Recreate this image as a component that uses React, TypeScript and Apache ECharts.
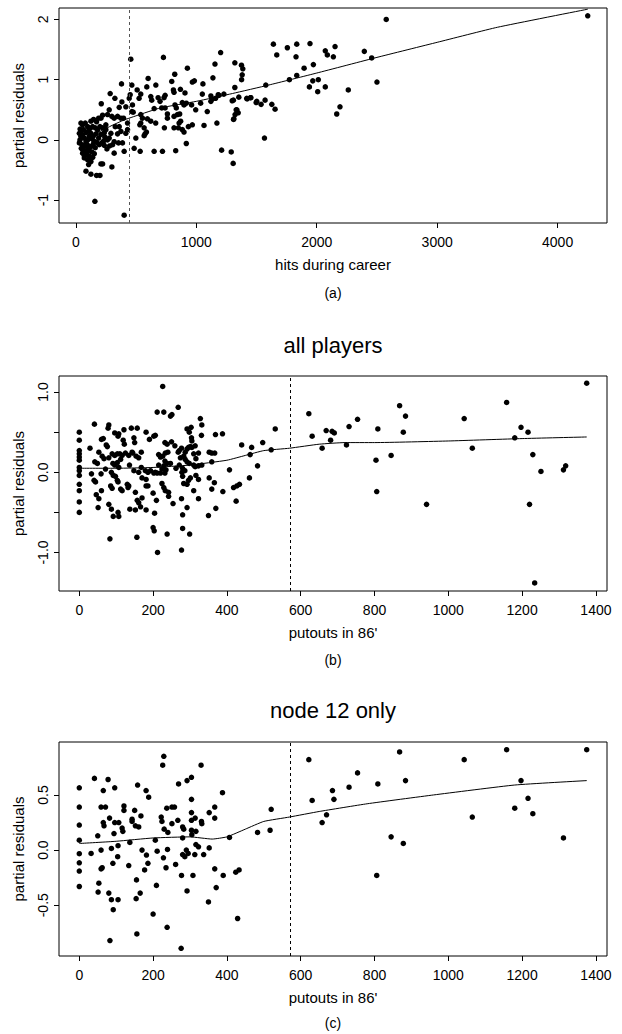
import React, { useEffect, useRef } from "react";
import * as echarts from "echarts";

// ---------- Data ----------
const hitsCareerPoints: [number, number][] = [
  [1202,1.45],[727,1.37],[456,1.34],[1155,1.26],[1320,1.28],[1375,1.24],[1386,1.18],[926,1.19],[821,1.09],[1138,1.03],[1381,1.08],[1376,1.00],[600,1.02],[984,0.98],[967,0.96],[796,0.97],[379,0.93],[664,0.91],[465,0.91],[589,0.88],[509,0.83],[1055,0.93],[1320,0.87],[285,0.77],[324,0.69],[451,0.75],[443,0.69],[539,0.76],[525,0.69],[622,0.72],[630,0.66],[683,0.70],[699,0.64],[741,0.74],[732,0.70],[810,0.83],[815,0.79],[868,0.84],[906,0.78],[1050,0.76],[1121,0.73],[1133,0.68],[1182,0.75],[1229,0.76],[1353,0.71],[1422,0.68],[1450,0.70],[1497,0.62],[1298,0.65],[211,0.60],[382,0.63],[470,0.58],[465,0.47],[476,0.46],[415,0.55],[360,0.54],[277,0.50],[299,0.39],[263,0.42],[222,0.41],[208,0.36],[318,0.36],[346,0.39],[374,0.36],[396,0.36],[429,0.28],[539,0.42],[553,0.36],[594,0.35],[622,0.31],[650,0.52],[663,0.28],[713,0.53],[741,0.53],[760,0.43],[760,0.36],[823,0.58],[834,0.53],[815,0.39],[843,0.42],[862,0.43],[884,0.62],[898,0.58],[917,0.61],[961,0.58],[995,0.50],[1036,0.61],[1091,0.47],[1121,0.64],[1160,0.69],[1188,0.74],[1331,0.50],[1348,0.45],[1312,0.35],[1064,0.24],[1171,0.28],[967,0.25],[934,0.22],[857,0.28],[870,0.31],[815,0.20],[851,0.20],[884,0.17],[898,0.13],[735,0.20],[567,0.20],[575,0.10],[586,0.13],[567,0.07],[531,0.25],[539,0.28],[498,0.03],[429,0.17],[415,0.11],[360,0.22],[374,0.14],[346,0.10],[327,0.22],[291,0.11],[277,0.03],[318,-0.03],[354,-0.05],[387,-0.05],[305,-0.08],[318,-0.22],[401,-0.19],[484,-0.14],[534,-0.19],[650,-0.19],[719,-0.19],[829,-0.18],[917,-0.06],[1210,-0.17],[1290,-0.20],[1306,-0.39],[299,-0.45],[208,-0.40],[222,-0.40],[106,-0.41],[84,-0.52],[125,-0.57],[172,-0.59],[200,-0.59],[158,-1.02],[401,-1.25],
  [42,0.28],[56,0.25],[78,0.28],[98,0.22],[125,0.31],[147,0.34],[172,0.30],[189,0.36],[139,0.22],[161,0.20],[180,0.17],[200,0.22],[222,0.20],[249,0.25],[249,0.17],[29,0.11],[42,0.06],[34,0.00],[29,-0.05],[56,0.08],[70,0.03],[84,-0.03],[98,0.00],[111,0.06],[125,0.11],[144,0.06],[167,0.10],[189,0.03],[208,0.09],[51,-0.08],[62,-0.12],[78,-0.09],[98,-0.13],[111,-0.18],[125,-0.11],[144,-0.07],[161,-0.13],[194,-0.08],[216,-0.05],[236,-0.09],[56,-0.22],[70,-0.26],[89,-0.24],[111,-0.27],[133,-0.20],[153,-0.23],[98,-0.33],[125,-0.36],[70,-0.30],[240,0.05],[262,0.00],[236,0.12],[280,-0.10],[258,-0.15],[230,-0.02],
  [35,0.18],[48,0.15],[63,0.17],[85,0.12],[105,0.15],[118,0.19],[132,0.02],[150,-0.02],[175,-0.04],[60,-0.17],[82,-0.19],[95,-0.08],[120,-0.31],[140,-0.29],[45,-0.14],
  [1640,1.59],[1668,1.41],[1756,1.53],[1834,1.59],[1944,1.60],[1828,1.38],[1895,1.19],[1972,1.25],[1834,1.07],[1773,1.00],[1967,0.98],[2013,1.00],[1939,0.88],[2008,0.80],[1577,0.91],[1419,0.69],[1453,0.70],[1502,0.64],[1538,0.59],[1571,0.66],[1627,0.59],[1654,0.51],[1566,0.03],[1322,0.42],[1337,0.50],[1308,0.66],[1309,0.34],[2071,1.48],[2088,1.41],[2152,1.55],[2138,1.38],[2071,0.88],[2193,0.55],[2166,0.43],[2262,0.83],[2395,1.47],[2456,1.36],[2500,0.96],[2577,2.00],[4250,2.06]
];
const hitsCareerLoess: [number, number][] = [
  [20,-0.03],[100,0.04],[200,0.14],[300,0.24],[400,0.33],[500,0.40],[700,0.53],[1000,0.64],[1300,0.77],[1600,0.91],[2000,1.11],[2500,1.37],[3000,1.62],[3500,1.87],[4250,2.17]
];
const putoutsAllPoints: [number, number][] = [
  [0,0.50],[0,0.40],[0,0.27],[0,0.23],[0,0.19],[0,0.15],[0,0.06],[0,0.02],[0,-0.04],[0,-0.15],[0,-0.23],[0,-0.37],[0,-0.50],
  [226,1.07],[211,0.75],[229,0.75],[247,0.70],[251,0.72],[268,0.81],[41,0.60],[80,0.59],[78,0.55],[60,0.41],[65,0.42],[96,0.49],[107,0.48],[105,0.45],[121,0.53],[141,0.55],[157,0.55],[119,0.40],[122,0.35],[148,0.43],[150,0.37],[143,0.25],[154,0.20],[181,0.50],[190,0.41],[202,0.45],[206,0.46],[29,0.30],[42,0.13],[49,0.11],[73,0.34],[76,0.32],[53,0.25],[62,0.20],[67,0.17],[80,0.18],[89,0.23],[96,0.21],[103,0.23],[110,0.23],[116,0.21],[91,0.11],[96,0.09],[103,0.12],[107,0.06],[112,0.16],[125,0.24],[134,0.21],[145,0.24],[161,0.18],[168,0.25],[33,-0.02],[40,-0.10],[44,-0.12],[59,-0.02],[71,0.04],[87,0.00],[92,-0.04],[98,-0.05],[103,-0.10],[105,-0.12],[85,-0.17],[89,-0.20],[112,-0.21],[116,-0.23],[130,-0.15],[134,-0.17],[132,-0.19],[46,-0.28],[53,-0.33],[51,-0.44],[60,-0.23],[80,-0.40],[87,-0.46],[92,-0.55],[105,-0.50],[107,-0.55],[83,-0.83],[137,-0.46],[152,-0.47],[166,-0.43],[152,-0.25],[157,-0.35],[161,-0.38],[170,-0.32],[181,-0.47],[156,-0.81],[136,0.09],[148,0.02],[161,0.00],[168,0.06],[179,0.02],[186,0.00],[193,0.02],[181,-0.17],[186,-0.17],[170,-0.07],[181,-0.09],[202,-0.01],[206,0.00],[211,-0.01],[200,-0.26],[209,-0.35],[204,-0.51],[200,-0.69],[203,-0.73],[212,-1.00],[215,0.22],[220,0.19],[226,0.20],[233,0.24],[240,0.25],[232,0.37],[238,0.35],[250,0.38],[259,0.33],[268,0.25],[271,0.27],[277,0.30],[215,0.09],[224,0.04],[229,0.08],[232,0.14],[238,0.11],[220,-0.01],[232,-0.01],[235,0.03],[224,-0.14],[229,-0.19],[233,-0.23],[242,-0.25],[242,-0.30],[254,-0.39],[238,-0.77],[247,0.11],[262,0.05],[271,0.09],[280,0.05],[278,0.00],[280,-0.05],[286,0.02],[274,0.18],[283,0.20],[287,0.25],[292,0.29],[296,0.31],[287,0.16],[292,0.13],[298,0.11],[292,0.54],[298,0.50],[303,0.56],[304,0.43],[305,0.39],[301,0.32],[305,0.31],[314,0.33],[310,0.23],[316,0.17],[323,0.24],[310,0.09],[314,0.07],[323,0.08],[332,0.09],[283,-0.14],[292,-0.15],[296,-0.10],[301,-0.07],[310,-0.23],[316,-0.04],[323,-0.09],[277,-0.33],[280,-0.53],[292,-0.44],[277,-0.97],[280,-0.70],[299,-0.77],[328,0.67],[332,0.59],[331,0.46],[323,-0.33],[350,-0.54],[370,-0.45],[352,-0.07],[359,-0.21],[366,-0.13],[352,0.25],[359,0.24],[367,0.24],[359,0.13],[369,0.47],[388,0.48],[389,-0.24],[407,0.03],[418,-0.19],[427,-0.17],[434,-0.15],[425,-0.36],[440,0.34],[461,-0.07],[463,0.22],[467,0.31],[483,0.08],[497,0.37],[520,0.28],[531,0.54],[622,0.73],[631,0.45],[658,0.30],[669,0.52],[681,0.40],[685,0.51],[691,0.49],[724,0.34],[731,0.57],[754,0.66],[804,0.15],[806,-0.24],[809,0.54],[845,0.21],[868,0.83],[878,0.50],[884,0.70],[941,-0.40],[1043,0.67],[1065,0.30],[1158,0.87],[1180,0.43],[1197,0.56],[1216,0.50],[1220,-0.40],[1229,0.22],[1234,-1.38],[1251,0.01],[1312,0.03],[1318,0.08],[1375,1.11]
];
const putoutsAllLoess: [number, number][] = [
  [0,0.05],[100,0.05],[200,0.06],[300,0.09],[400,0.15],[450,0.21],[500,0.27],[570,0.30],[650,0.35],[720,0.37],[800,0.37],[1000,0.39],[1200,0.42],[1375,0.44]
];
const putoutsNode12Points: [number, number][] = [
  [0,0.565],[0,0.39],[0,0.227],[0,0.09],[0,-0.033],[0,-0.115],[0,-0.19],[0,-0.33],
  [41,0.65],[78,0.64],[65,0.54],[96,0.565],[59,0.39],[71,0.39],[82,0.29],[65,0.25],[67,0.22],[96,0.25],[107,0.25],[94,0.15],[116,0.20],[118,0.17],[121,0.40],[121,0.36],[150,0.36],[143,0.28],[143,0.26],[158,0.59],[181,0.54],[188,0.48],[152,0.22],[161,0.21],[167,0.31],[50,0.13],[32,-0.03],[59,0.00],[87,0.015],[105,0.04],[137,0.07],[104,-0.06],[91,-0.12],[59,-0.17],[62,-0.16],[53,-0.30],[51,-0.38],[80,-0.39],[87,-0.45],[105,-0.45],[92,-0.54],[83,-0.82],[155,-0.27],[134,-0.14],[170,0.00],[182,-0.045],[186,-0.12],[177,-0.18],[165,-0.39],[154,-0.44],[156,-0.76],[200,-0.58],[209,-0.32],[206,0.09],[211,-0.01],[228,-0.07],[239,0.006],[235,-0.16],[226,0.77],[229,0.85],[237,0.38],[251,0.39],[258,0.39],[222,0.30],[224,0.26],[230,0.19],[240,0.16],[251,0.24],[267,0.27],[269,0.60],[292,0.63],[304,0.66],[330,0.77],[304,0.46],[280,0.21],[283,0.19],[304,0.18],[305,0.14],[316,0.17],[304,0.34],[304,0.27],[314,0.29],[331,0.26],[332,0.24],[280,0.11],[261,-0.13],[277,-0.23],[292,-0.37],[238,-0.70],[276,-0.89],[280,-0.04],[286,-0.06],[290,0.00],[295,-0.03],[308,-0.23],[313,-0.04],[316,0.05],[323,0.03],[337,-0.04],[352,0.02],[352,0.34],[367,0.39],[367,0.29],[388,0.52],[367,-0.17],[371,-0.34],[350,-0.47],[390,-0.23],[407,0.115],[424,-0.20],[433,-0.18],[429,-0.62],[483,0.16],[517,0.18],[520,0.37],[622,0.82],[631,0.45],[658,0.25],[670,0.32],[686,0.54],[690,0.46],[731,0.57],[754,0.70],[806,-0.23],[809,0.60],[845,0.12],[868,0.89],[878,0.06],[884,0.63],[1043,0.82],[1065,0.30],[1158,0.91],[1180,0.38],[1197,0.63],[1216,0.47],[1229,0.33],[1312,0.11],[1375,0.91]
];
const putoutsNode12Loess: [number, number][] = [
  [0,0.06],[100,0.08],[200,0.11],[300,0.12],[360,0.10],[400,0.12],[450,0.19],[500,0.26],[570,0.30],[650,0.35],[780,0.42],[960,0.50],[1180,0.59],[1375,0.63]
];

const hitsTicks = [0, 1000, 2000, 3000, 4000];
const putoutsTicks = [0, 200, 400, 600, 800, 1000, 1200, 1400];
const resATicks = [-1, 0, 1, 2];
const resBTicks = [-1, -0.5, 0, 0.5, 1];
const resBLabels = [-1, 0, 1];
const resCTicks = [-0.5, 0, 0.5];
const splitA = 441;
const splitBC = 571;

const FONT = "'Liberation Sans', Arial, Helvetica, sans-serif";

function xAxisCfg(gridIndex: number, min: number, max: number, ticks: number[], name: string) {
  return {
    type: "value", gridIndex, min, max, name, nameLocation: "middle", nameGap: 34,
    nameTextStyle: { fontFamily: FONT, fontSize: 15, color: "#000" },
    axisLine: { show: false, onZero: false },
    axisTick: { show: true, length: 5, inside: false, customValues: ticks, lineStyle: { color: "#000" } },
    axisLabel: { customValues: ticks, margin: 12, fontFamily: FONT, fontSize: 14, color: "#000",
      formatter: (v: number) => String(v) },
    splitLine: { show: false },
  };
}
function yAxisCfg(gridIndex: number, min: number, max: number, ticks: number[], labels: number[], digits: number) {
  return {
    type: "value", gridIndex, min, max, name: "partial residuals", nameLocation: "middle", nameGap: 33, nameRotate: 90,
    nameTextStyle: { fontFamily: FONT, fontSize: 15, color: "#000" },
    axisLine: { show: false, onZero: false },
    axisTick: { show: true, length: 5, inside: false, customValues: ticks, lineStyle: { color: "#000" } },
    axisLabel: { customValues: labels, rotate: 90, margin: 9, fontFamily: FONT, fontSize: 14, color: "#000",
      formatter: (v: number) => v.toFixed(digits) },
    splitLine: { show: false },
  };
}
function scatter(i: number, data: [number, number][], split: number, dashColor: string) {
  return {
    type: "scatter", xAxisIndex: i, yAxisIndex: i, data, symbolSize: 5.5,
    itemStyle: { color: "#000", opacity: 1 },
    markLine: { silent: true, symbol: "none", label: { show: false },
      lineStyle: { type: [3, 3], color: dashColor, width: 1 }, data: [{ xAxis: split }] },
  };
}
function loess(i: number, data: [number, number][]) {
  return { type: "line", xAxisIndex: i, yAxisIndex: i, data, showSymbol: false, smooth: 0.15,
    lineStyle: { color: "#000", width: 1 } };
}

export default function App() {
  const ref = useRef<HTMLDivElement>(null);
  useEffect(() => {
    if (!ref.current) return;
    const chart = echarts.init(ref.current, undefined, { renderer: "svg" });
    const gridBase = { left: 59, width: 548, show: true, borderColor: "#000", borderWidth: 1, backgroundColor: "transparent", containLabel: false };
    chart.setOption({
      animation: false,
      grid: [
        { ...gridBase, top: 8, height: 215 },
        { ...gridBase, top: 376, height: 215 },
        { ...gridBase, top: 742, height: 214 },
      ],
      xAxis: [
        xAxisCfg(0, -140, 4410, hitsTicks, "hits during career"),
        xAxisCfg(1, -55, 1430, putoutsTicks, "putouts in 86'"),
        xAxisCfg(2, -55, 1430, putoutsTicks, "putouts in 86'"),
      ],
      yAxis: [
        yAxisCfg(0, -1.38, 2.19, resATicks, resATicks, 0),
        yAxisCfg(1, -1.48, 1.2, resBTicks, resBLabels, 1),
        yAxisCfg(2, -0.96, 0.98, resCTicks, resCTicks, 1),
      ],
      graphic: [
        { type: "text", x: 333, y: 293, style: { text: "(a)", fontFamily: FONT, fontSize: 14, fill: "#000", align: "center", verticalAlign: "middle" } },
        { type: "text", x: 333, y: 345, style: { text: "all players", fontFamily: FONT, fontSize: 22, fill: "#000", align: "center", verticalAlign: "middle" } },
        { type: "text", x: 333, y: 660, style: { text: "(b)", fontFamily: FONT, fontSize: 14, fill: "#000", align: "center", verticalAlign: "middle" } },
        { type: "text", x: 333, y: 710, style: { text: "node 12 only", fontFamily: FONT, fontSize: 22, fill: "#000", align: "center", verticalAlign: "middle" } },
        { type: "text", x: 333, y: 1023, style: { text: "(c)", fontFamily: FONT, fontSize: 14, fill: "#000", align: "center", verticalAlign: "middle" } },
      ],
      series: [
        scatter(0, hitsCareerPoints, splitA, "#555"),
        loess(0, hitsCareerLoess),
        scatter(1, putoutsAllPoints, splitBC, "#000"),
        loess(1, putoutsAllLoess),
        scatter(2, putoutsNode12Points, splitBC, "#000"),
        loess(2, putoutsNode12Loess),
      ],
    });
    return () => chart.dispose();
  }, []);
  return <div ref={ref} style={{ position: "absolute", left: 0, top: 0, width: 622, height: 1034, background: "#fff" }} />;
}
